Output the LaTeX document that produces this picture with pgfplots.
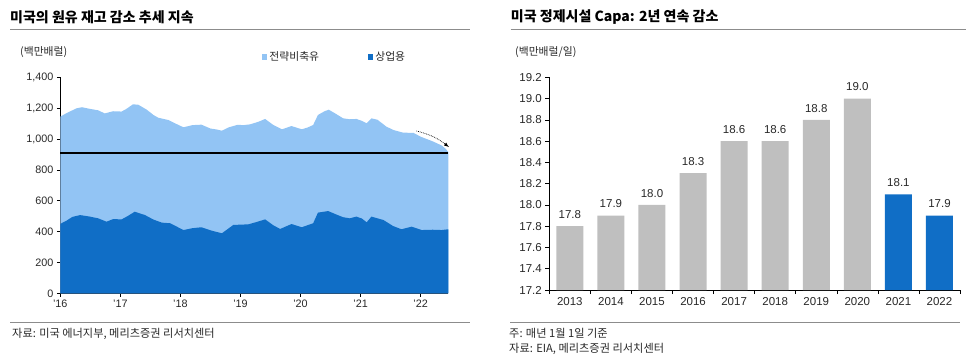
\documentclass[border=0pt]{standalone}
\usepackage{pgfplots}
\pgfplotsset{compat=1.18}
\usepackage{fontspec}
\setmainfont{Liberation Sans}
\newfontfamily\kr{Noto Sans CJK KR}
\definecolor{lightb}{RGB}{146,196,244}
\definecolor{darkb}{RGB}{16,110,198}
\definecolor{barg}{RGB}{191,191,191}
\definecolor{barb}{RGB}{16,110,198}
\definecolor{rule}{RGB}{140,140,140}
\definecolor{txt}{RGB}{40,40,40}
\begin{document}
\begin{tikzpicture}[x=1pt,y=1pt]
\useasboundingbox (0,0) rectangle (966,359);
% ---------------- left panel texts
\node[anchor=west,inner sep=0] at (10,341.5) {\kr\bfseries\fontsize{14}{16}\selectfont 미국의 원유 재고 감소 추세 지속};
\draw[rule, line width=0.9] (10,329.7) -- (470,329.7);
\node[anchor=west,inner sep=0,text=txt] at (20,306.5) {\kr\fontsize{10.8}{12}\selectfont (백만배럴)};
\draw[rule, line width=0.9] (10,36.7) -- (470,36.7);
\node[anchor=west,inner sep=0,text=txt] at (12,25) {\kr\fontsize{11.2}{12}\selectfont 자료: 미국 에너지부, 메리츠증권 리서치센터};
% ---------------- right panel texts
\node[anchor=west,inner sep=0] at (510.7,341.5) {\kr\bfseries\fontsize{14}{16}\selectfont 미국 정제시설 Capa: 2년 연속 감소};
\draw[rule, line width=0.9] (510.7,329.7) -- (966,329.7);
\node[anchor=west,inner sep=0,text=txt] at (515,306.5) {\kr\fontsize{10.8}{12}\selectfont (백만배럴/일)};
\draw[rule, line width=0.9] (510,36.7) -- (960,36.7);
\node[anchor=west,inner sep=0,text=txt] at (509,26) {\kr\fontsize{11.2}{12}\selectfont 주: 매년 1월 1일 기준};
\node[anchor=west,inner sep=0,text=txt] at (509,10.5) {\kr\fontsize{11.2}{12}\selectfont 자료: EIA, 메리츠증권 리서치센터};
% ---------------- left axis
\begin{axis}[at={(60.3pt,65.7pt)}, anchor=south west, scale only axis,
  width=388pt, height=216pt, clip=false,
  xmin=2016, xmax=2022.46, ymin=0, ymax=1400,
  axis x line*=bottom, axis y line*=left,
  axis line style={black, line width=0.8pt},
  tick align=outside, major tick length=3.5pt,
  tick style={black, line width=0.6pt},
  xtick={2016,2017,2018,2019,2020,2021,2022},
  xticklabels={'16,'17,'18,'19,'20,'21,'22},
  ytick={0,200,400,600,800,1000,1200,1400},
  scaled y ticks=false,
  /pgf/number format/1000 sep={,},
  /pgf/number format/assume math mode=true,
  ticklabel style={font=\fontsize{10.8}{12}\selectfont, text=txt},
  legend style={at={(0.52,1.094)}, anchor=west, draw=none, fill=none,
    inner sep=0pt, legend columns=2,
    font=\kr\fontsize{10.8}{12}\selectfont, text=txt,
    /tikz/every even column/.append style={column sep=47pt}},
  legend cell align=left,
  legend image code/.code={\fill[#1] (0pt,-2.6pt) rectangle (5.2pt,2.6pt);},
]
\addplot[fill=lightb, draw=none] coordinates {
(2016.00,1145)(2016.10,1167)(2016.27,1199)(2016.36,1206)(2016.50,1195)(2016.63,1186)(2016.74,1166)(2016.88,1180)(2017.02,1178)(2017.10,1195)(2017.21,1225)(2017.30,1222)(2017.44,1190)(2017.55,1156)(2017.63,1138)(2017.80,1123)(2017.92,1100)(2018.05,1076)(2018.20,1090)(2018.35,1093)(2018.50,1068)(2018.60,1062)(2018.69,1054)(2018.80,1075)(2018.95,1092)(2019.05,1090)(2019.16,1095)(2019.30,1112)(2019.41,1130)(2019.55,1090)(2019.69,1063)(2019.85,1084)(2020.02,1063)(2020.12,1075)(2020.21,1091)(2020.29,1156)(2020.40,1180)(2020.47,1190)(2020.58,1165)(2020.71,1134)(2020.82,1128)(2020.93,1130)(2021.02,1118)(2021.10,1102)(2021.18,1134)(2021.28,1125)(2021.43,1080)(2021.55,1058)(2021.71,1041)(2021.88,1040)(2022.00,1015)(2022.20,985)(2022.35,958)(2022.42,935)(2022.46,915)
} \closedcycle;
\addlegendentry{전략비축유}
\addplot[fill=darkb, draw=none] coordinates {
(2016.00,450)(2016.10,470)(2016.20,495)(2016.33,507)(2016.48,498)(2016.63,486)(2016.77,464)(2016.88,481)(2017.02,479)(2017.12,500)(2017.24,529)(2017.41,507)(2017.55,478)(2017.69,458)(2017.83,454)(2017.95,430)(2018.05,410)(2018.20,422)(2018.35,428)(2018.52,406)(2018.69,389)(2018.80,420)(2018.88,443)(2019.13,447)(2019.25,460)(2019.41,479)(2019.55,440)(2019.66,417)(2019.85,449)(2020.02,428)(2020.21,454)(2020.29,523)(2020.46,533)(2020.60,510)(2020.71,493)(2020.82,486)(2020.93,497)(2021.02,485)(2021.10,460)(2021.18,497)(2021.38,475)(2021.54,436)(2021.68,415)(2021.85,432)(2022.02,410)(2022.20,412)(2022.35,410)(2022.46,415)
} \closedcycle;
\addlegendentry{상업용}
\addplot[black, line width=1.6pt, forget plot] coordinates {(2016,911)(2022.46,911)};
\draw[densely dotted, line width=0.7pt, -latex] (axis cs:2021.93,1052) to[bend left=12] (axis cs:2022.47,948);
\end{axis}
% ---------------- right axis
\begin{axis}[at={(549.3pt,69pt)}, anchor=south west, scale only axis,
  width=410.7pt, height=212.7pt, clip=false,
  xmin=-0.5, xmax=9.5, ymin=17.2, ymax=19.2,
  axis x line*=bottom, axis y line*=left,
  axis line style={black, line width=0.8pt},
  tick align=outside, major tick length=4pt,
  tick style={black, line width=0.6pt},
  xtick={-0.5,0.5,1.5,2.5,3.5,4.5,5.5,6.5,7.5,8.5,9.5},
  x tick label as interval,
  xticklabels={2013,2014,2015,2016,2017,2018,2019,2020,2021,2022},
  ytick={17.2,17.4,17.6,17.8,18.0,18.2,18.4,18.6,18.8,19.0,19.2},
  yticklabel style={/pgf/number format/.cd, fixed, fixed zerofill, precision=1},
  /pgf/number format/assume math mode=true,
  ticklabel style={font=\fontsize{11.5}{13}\selectfont, text=txt},
  nodes near coords={\pgfmathprintnumber[fixed,fixed zerofill,precision=1]{\pgfplotspointmeta}},
  every node near coord/.append style={font=\fontsize{11.5}{13}\selectfont, text=txt, yshift=4pt},
]
\addplot[ybar, bar width=27pt, bar shift=0pt, fill=barg, draw=none] coordinates {
(0,17.8)(1,17.9)(2,18.0)(3,18.3)(4,18.6)(5,18.6)(6,18.8)(7,19.0)};
\addplot[ybar, bar width=27pt, bar shift=0pt, fill=barb, draw=none] coordinates {
(8,18.1)(9,17.9)};
\end{axis}
\end{tikzpicture}
\end{document}
